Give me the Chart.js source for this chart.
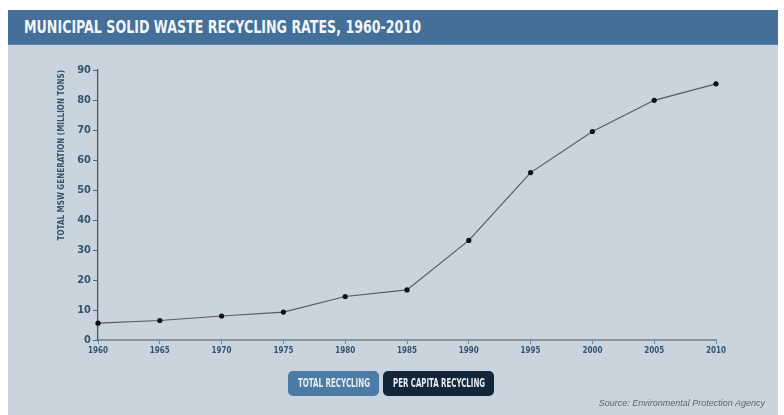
<!DOCTYPE html>
<html>
<head>
<meta charset="utf-8">
<script src="https://cdn.jsdelivr.net/npm/chart.js@4"></script>
<style>
  body { margin: 0; width: 784px; height: 415px; background: #fff; overflow: hidden; position: relative; }
  #panel { position: absolute; left: 8px; top: 10px; width: 770px; height: 405px; background: #c9d4df; }
  #titlebar { position: absolute; left: 8px; top: 10px; width: 770px; height: 34px; background: #436f98; border-bottom: 1px solid #5d83a7; }
  .fit { display: inline-block; white-space: nowrap; transform-origin: 0 50%; }
  #title { position: absolute; left: 16px; top: 6px; font: bold 18px "DejaVu Sans Condensed", sans-serif; color: #f2f4f6; }
  #chart { position: absolute; left: 0; top: 0; }
  .btn { position: absolute; top: 371px; height: 25px; border-radius: 5px; color: #e6ecf2; overflow: hidden; }
  .btn span { position: absolute; top: 0; height: 25px; line-height: 25px; font: bold 12px/25px "DejaVu Sans Condensed", sans-serif; }
  #b1 { left: 288px; width: 91px; background: #4c7ba6; }
  #b2 { left: 383px; width: 111px; background: #14263a; }
  #source { position: absolute; right: 19px; top: 398px; font: italic 9px "Liberation Sans", Arial, sans-serif; color: #5f6670; }
</style>
</head>
<body>
<div id="panel"></div>
<div id="titlebar"><div id="title" class="fit" data-w="397">MUNICIPAL SOLID WASTE RECYCLING RATES, 1960-2010</div></div>
<canvas id="chart" width="784" height="415"></canvas>
<div class="btn" id="b1"><span class="fit" data-w="72" style="left:10px">TOTAL RECYCLING</span></div>
<div class="btn" id="b2"><span class="fit" data-w="92" style="left:10px">PER CAPITA RECYCLING</span></div>
<div id="source">Source: Environmental Protection Agency</div>
<script>
const years = ['1960', '1965', '1970', '1975', '1980', '1985', '1990', '1995', '2000', '2005', '2010'];
const recycled = [5.6, 6.5, 8.0, 9.3, 14.5, 16.7, 33.2, 55.8, 69.5, 79.9, 85.4];
const yTitle = 'TOTAL MSW GENERATION (MILLION TONS)';

const narrow = '"DejaVu Sans Condensed", sans-serif';
const tickColor = '#35536f';

// squeeze html labels to the narrow widths of the original
document.querySelectorAll('.fit').forEach(function (el) {
    const w = el.getBoundingClientRect().width;
    el.style.transform = 'scaleX(' + (el.dataset.w / w) + ')';
});

new Chart(document.getElementById('chart').getContext('2d'), {
    type: 'line',
    data: {
        labels: years,
        datasets: [{
            data: recycled,
            borderColor: '#555b62',
            borderWidth: 1.2,
            pointRadius: 2.6,
            pointBorderWidth: 0,
            pointBackgroundColor: '#0d1115',
            tension: 0
        }]
    },
    options: {
        responsive: false,
        animation: false,
        layout: { padding: { top: 70, right: 68, bottom: 0, left: 0 } },
        plugins: { legend: { display: false }, tooltip: { enabled: false } },
        scales: {
            x: {
                offset: false,
                grid: { drawOnChartArea: false, drawTicks: true, tickLength: 4, color: '#7d858e' },
                border: { color: '#8a9199', width: 2 },
                ticks: { color: tickColor, font: { family: narrow, size: 8, weight: 'bold' }, padding: 2, maxRotation: 0, autoSkip: false },
                afterFit: function (scale) { scale.height = 75; }
            },
            y: {
                min: 0,
                max: 90,
                grid: { drawOnChartArea: false, drawTicks: true, tickLength: 5, color: '#5a6068' },
                border: { color: '#4e545b', width: 1.3 },
                ticks: { stepSize: 10, color: tickColor, font: { family: narrow, size: 11, weight: 'bold' }, padding: 2 },
                title: {
                    display: true,
                    text: yTitle,
                    align: 'end',
                    color: tickColor,
                    font: { family: narrow, size: 8, weight: 'bold' },
                    padding: { top: 57, bottom: 0 }
                },
                afterFit: function (scale) { scale.width = 98; }
            }
        }
    }
});
</script>
</body>
</html>
